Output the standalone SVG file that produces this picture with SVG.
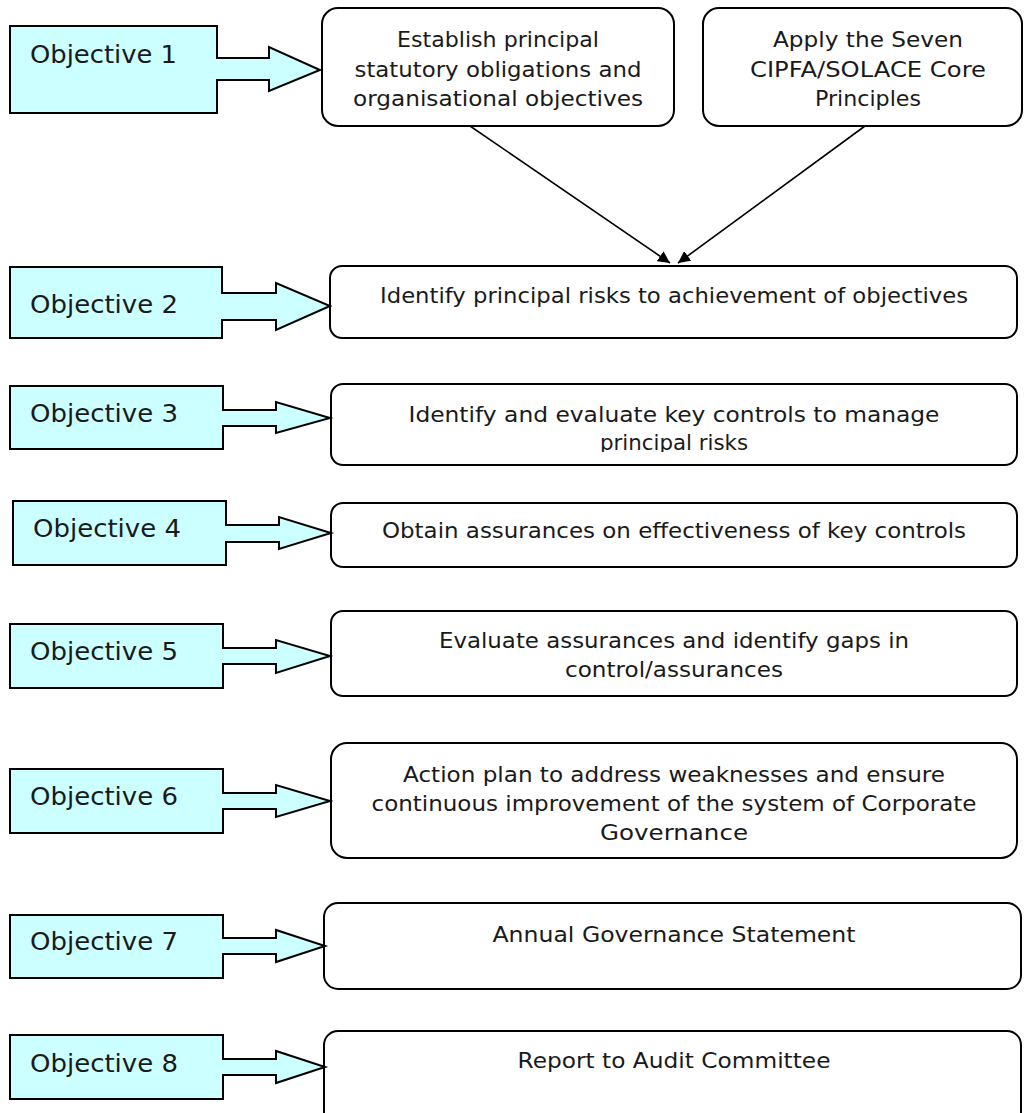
<svg xmlns="http://www.w3.org/2000/svg" width="1025" height="1113" viewBox="0 0 1025 1113">
<style>
.obj{fill:#ccffff;stroke:#000;stroke-width:2}
.box{fill:#fff;stroke:#000;stroke-width:2}
.blk{fill:#ccffff;stroke:#000;stroke-width:2;stroke-linejoin:miter}
.ln{fill:none;stroke:#000;stroke-width:1.6}
text{font-family:"DejaVu Sans","Liberation Sans",sans-serif;font-size:22px;fill:#1a1a1a}
.o{font-size:25px}
.c{text-anchor:middle}
</style>
<defs>
<marker id="ah" viewBox="0 0 12 12" refX="12" refY="6" markerWidth="12" markerHeight="12" markerUnits="userSpaceOnUse" orient="auto">
<path d="M0,0 L12,6 L0,12 Z" fill="#000"/>
</marker>
<clipPath id="clip3"><rect x="331" y="384" width="686" height="68"/></clipPath>
</defs>
<rect width="1025" height="1113" fill="#fff"/>

<g id="obj1"><rect class="obj" x="10" y="26" width="207" height="87"/><text class="o" x="30" y="63" textLength="147" lengthAdjust="spacingAndGlyphs">Objective 1</text></g>
<g id="obj2"><rect class="obj" x="10" y="267" width="212" height="71"/><text class="o" x="30" y="313" textLength="148" lengthAdjust="spacingAndGlyphs">Objective 2</text></g>
<g id="obj3"><rect class="obj" x="10" y="386" width="213" height="63"/><text class="o" x="30" y="422" textLength="148" lengthAdjust="spacingAndGlyphs">Objective 3</text></g>
<g id="obj4"><rect class="obj" x="13" y="501" width="213" height="64"/><text class="o" x="33" y="537" textLength="148" lengthAdjust="spacingAndGlyphs">Objective 4</text></g>
<g id="obj5"><rect class="obj" x="10" y="624" width="213" height="64"/><text class="o" x="30" y="660" textLength="148" lengthAdjust="spacingAndGlyphs">Objective 5</text></g>
<g id="obj6"><rect class="obj" x="10" y="769" width="213" height="64"/><text class="o" x="30" y="805" textLength="148" lengthAdjust="spacingAndGlyphs">Objective 6</text></g>
<g id="obj7"><rect class="obj" x="10" y="915" width="213" height="63"/><text class="o" x="30" y="950" textLength="148" lengthAdjust="spacingAndGlyphs">Objective 7</text></g>
<g id="obj8"><rect class="obj" x="10" y="1035" width="213" height="64"/><text class="o" x="30" y="1072" textLength="148" lengthAdjust="spacingAndGlyphs">Objective 8</text></g>

<g id="establish"><rect class="box" x="322" y="8" width="352" height="118" rx="16"/>
<text class="c" x="498" y="47" textLength="202" lengthAdjust="spacingAndGlyphs">Establish principal</text>
<text class="c" x="498" y="77" textLength="287" lengthAdjust="spacingAndGlyphs">statutory obligations and</text>
<text class="c" x="498" y="106" textLength="290" lengthAdjust="spacingAndGlyphs">organisational objectives</text></g>
<g id="apply"><rect class="box" x="703" y="8" width="319" height="118" rx="16"/>
<text class="c" x="868" y="47" textLength="190" lengthAdjust="spacingAndGlyphs">Apply the Seven</text>
<text class="c" x="868" y="77" textLength="236" lengthAdjust="spacingAndGlyphs">CIPFA/SOLACE Core</text>
<text class="c" x="868" y="106" textLength="106" lengthAdjust="spacingAndGlyphs">Principles</text></g>
<g id="risks"><rect class="box" x="330" y="266" width="687" height="72" rx="12"/>
<text class="c" x="674" y="303" textLength="588" lengthAdjust="spacingAndGlyphs">Identify principal risks to achievement of objectives</text></g>
<g id="controls"><rect class="box" x="331" y="384" width="686" height="81" rx="12"/>
<g clip-path="url(#clip3)"><text class="c" x="674" y="422" textLength="531" lengthAdjust="spacingAndGlyphs">Identify and evaluate key controls to manage</text>
<text class="c" x="674" y="450" textLength="148" lengthAdjust="spacingAndGlyphs">principal risks</text></g></g>
<g id="assurances"><rect class="box" x="331" y="503" width="686" height="64" rx="12"/>
<text class="c" x="674" y="538" textLength="584" lengthAdjust="spacingAndGlyphs">Obtain assurances on effectiveness of key controls</text></g>
<g id="gaps"><rect class="box" x="331" y="611" width="686" height="85" rx="12"/>
<text class="c" x="674" y="648" textLength="470" lengthAdjust="spacingAndGlyphs">Evaluate assurances and identify gaps in</text>
<text class="c" x="674" y="677" textLength="218" lengthAdjust="spacingAndGlyphs">control/assurances</text></g>
<g id="action"><rect class="box" x="331" y="743" width="686" height="115" rx="16"/>
<text class="c" x="674" y="782" textLength="542" lengthAdjust="spacingAndGlyphs">Action plan to address weaknesses and ensure</text>
<text class="c" x="674" y="811" textLength="605" lengthAdjust="spacingAndGlyphs">continuous improvement of the system of Corporate</text>
<text class="c" x="674" y="840" textLength="148" lengthAdjust="spacingAndGlyphs">Governance</text></g>
<g id="ags"><rect class="box" x="324" y="903" width="697" height="86" rx="14"/>
<text class="c" x="674" y="942" textLength="363" lengthAdjust="spacingAndGlyphs">Annual Governance Statement</text></g>
<g id="report"><rect class="box" x="324" y="1031" width="697" height="100" rx="14"/>
<text class="c" x="674" y="1068" textLength="313" lengthAdjust="spacingAndGlyphs">Report to Audit Committee</text></g>

<g id="connectors">
<path class="blk" d="M216,58 H269 V47 L320,70 L269,91 V80 H216"/>
<path class="blk" d="M221,293 H276 V283 L330,306 L276,330 V320 H221"/>
<path class="blk" d="M222,410 H276 V402 L330,418 L276,433 V426 H222"/>
<path class="blk" d="M225,525 H279 V517 L331,533 L279,549 V542 H225"/>
<path class="blk" d="M222,648 H276 V640 L330,656 L276,673 V664 H222"/>
<path class="blk" d="M222,793 H276 V785 L330,801 L276,817 V809 H222"/>
<path class="blk" d="M222,938 H276 V930 L325,946 L276,962 V954 H222"/>
<path class="blk" d="M222,1059 H276 V1051 L325,1067 L276,1083 V1075 H222"/>
<line class="ln" x1="470" y1="126" x2="670" y2="263" marker-end="url(#ah)"/>
<line class="ln" x1="865" y1="126" x2="678" y2="263" marker-end="url(#ah)"/>
</g>
</svg>
